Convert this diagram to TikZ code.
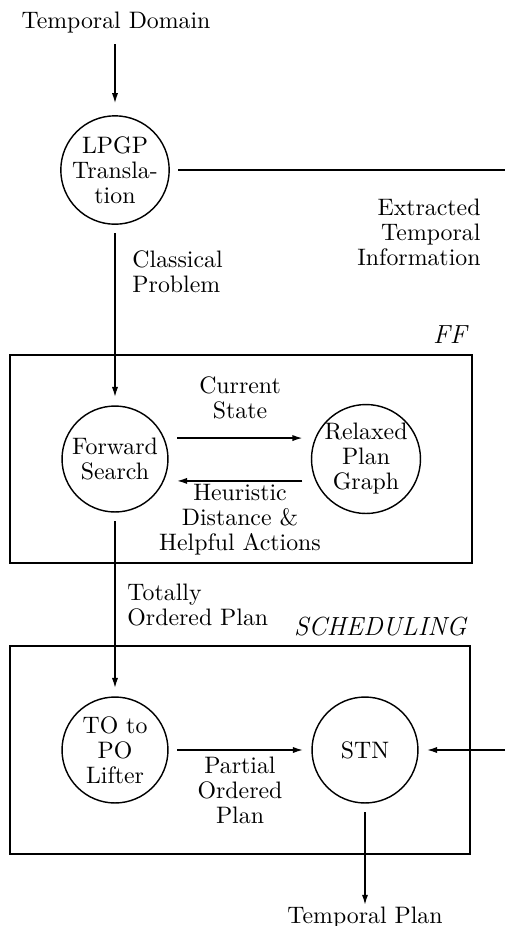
\documentclass[tikz,border=0pt]{standalone}
\usetikzlibrary{arrows.meta}
\begin{document}
\begin{tikzpicture}[x=0.42pt,y=-0.42pt,
  font=\fontsize{10}{10.5}\selectfont,
  proc/.style={circle,draw,line width=0.6pt,minimum size=44.5pt,inner sep=0pt,
    outer sep=3.8pt,align=center},
  lbl/.style={inner sep=0pt,align=center},
  frame/.style={draw,line width=1.1pt},
  title/.style={inner sep=0pt,font=\fontsize{11}{12}\selectfont\itshape,anchor=east},
  arr/.style={line width=0.6pt,-{Latex[length=4.2pt,width=2.6pt]}},
  ln/.style={line width=0.6pt}]
\useasboundingbox (0,0) rectangle (505,926);

% module frames
\draw[frame] (10,355) rectangle (472,563);
\draw[frame] (10,646) rectangle (470,854);
\node[title] (fft) at (467,335) {FF};
\node[title] (sct) at (467,627) {SCHEDULING};

% processes
\node[proc] (lpgp) at (115,170) {LPGP\\Transla-\\tion};
\node[proc] (fs)   at (115,459) {Forward\\Search};
\node[proc] (rpg)  at (366,459) {Relaxed\\Plan\\Graph};
\node[proc] (topo) at (115,750) {TO to\\PO\\Lifter};
\node[proc] (stn)  at (365,750) {STN};

% input / output text
\node[lbl] (td) at (116,23) {Temporal Domain};
\node[lbl,anchor=north] (tp) at (365,906) {Temporal Plan};

% edge labels
\node[lbl,align=left,anchor=west] (cp) at (132,272) {Classical\\Problem};
\node[lbl,align=right,anchor=east] (eti) at (481,232) {Extracted\\Temporal\\Information};
\node[lbl] (cs) at (240,398) {Current\\State};
\node[lbl] (hd) at (240,520) {Heuristic\\Distance \&\\Helpful Actions};
\node[lbl,align=left,anchor=west] (top) at (127,605) {Totally\\Ordered Plan};
\node[lbl] (pop) at (240,790) {Partial\\Ordered\\Plan};

% temporal information route along the right edge
\coordinate (ex1) at (505,170);
\coordinate (ex2) at (505,750);

% connectors
\draw[arr,shorten <=4.2pt,shorten >=1.5pt] (td.south -| lpgp) -- (lpgp);
\draw[ln] (lpgp) -- (ex1);
\draw[arr] (lpgp) -- (fs);
\draw[arr] ([yshift=8.8pt]fs.east) -- ([yshift=8.8pt]rpg.west);
\draw[arr] ([yshift=-9.2pt]rpg.west) -- ([yshift=-9.2pt]fs.east);
\draw[arr] (fs) -- (topo);
\draw[arr] (topo) -- (stn);
\draw[arr] (ex2) -- (stn);
\draw[arr,shorten >=0.5pt] (stn) -- (tp);
\end{tikzpicture}
\end{document}
